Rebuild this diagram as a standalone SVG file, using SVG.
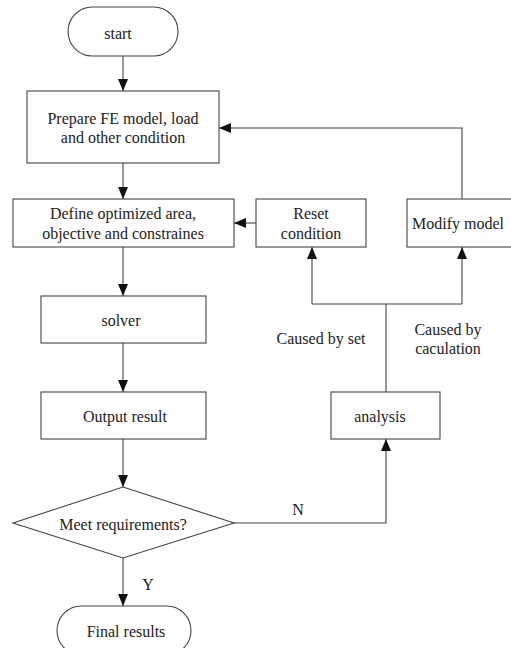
<svg xmlns="http://www.w3.org/2000/svg" width="511" height="648" viewBox="0 0 511 648">
<style>
.n{fill:#fff;stroke:#444;stroke-width:1.1}
.t{font-family:"Liberation Serif","Times New Roman",serif;font-size:16px;fill:#222;text-anchor:middle;dominant-baseline:central}
.c{fill:none;stroke:#444;stroke-width:1.1}
</style>
<defs>
<marker id="a" markerUnits="userSpaceOnUse" markerWidth="12" markerHeight="12" viewBox="0 0 12 12" refX="12" refY="6" orient="auto">
<path d="M0,1 L12,6 L0,11 Z" fill="#111"/>
</marker>
</defs>
<rect width="511" height="648" fill="#fff"/>
<g id="connectors">
<path class="c" d="M123,56 V91" marker-end="url(#a)"/>
<path class="c" d="M123,163 V199" marker-end="url(#a)"/>
<path class="c" d="M256,223 H234" marker-end="url(#a)"/>
<path class="c" d="M462,199 V128 H219" marker-end="url(#a)"/>
<path class="c" d="M123,247 V296" marker-end="url(#a)"/>
<path class="c" d="M123,343 V392" marker-end="url(#a)"/>
<path class="c" d="M123,439 V487" marker-end="url(#a)"/>
<path class="c" d="M123,558 V606" marker-end="url(#a)"/>
<path class="c" d="M234,523 H386 V439" marker-end="url(#a)"/>
<path class="c" d="M386,392 V304"/>
<path class="c" d="M312,304 H462"/>
<path class="c" d="M312,304 V247" marker-end="url(#a)"/>
<path class="c" d="M462,304 V247" marker-end="url(#a)"/>
<text class="t" x="321" y="338">Caused by set</text>
<text class="t" x="448" y="329">Caused by</text>
<text class="t" x="448" y="348">caculation</text>
<text class="t" x="298" y="509">N</text>
<text class="t" x="148" y="584">Y</text>
</g>
<g id="start">
<rect class="n" x="68" y="7" width="110" height="49" rx="24.5"/>
<text class="t" x="118" y="33">start</text>
</g>
<g id="prepare">
<rect class="n" x="27" y="91" width="192" height="72"/>
<text class="t" x="123" y="118">Prepare FE model, load</text>
<text class="t" x="123" y="137">and other condition</text>
</g>
<g id="define">
<rect class="n" x="13" y="199" width="221" height="48"/>
<text class="t" x="123" y="213">Define optimized area,</text>
<text class="t" x="123" y="233">objective and constraines</text>
</g>
<g id="reset">
<rect class="n" x="256" y="199" width="110" height="48"/>
<text class="t" x="311" y="213">Reset</text>
<text class="t" x="311" y="233">condition</text>
</g>
<g id="modify">
<rect class="n" x="407" y="199" width="110" height="48"/>
<text class="t" x="458" y="223">Modify model</text>
</g>
<g id="solver">
<rect class="n" x="41" y="296" width="165" height="47"/>
<text class="t" x="121" y="320">solver</text>
</g>
<g id="output">
<rect class="n" x="41" y="392" width="165" height="47"/>
<text class="t" x="125" y="416">Output result</text>
</g>
<g id="analysis">
<rect class="n" x="331" y="392" width="109" height="47"/>
<text class="t" x="380" y="416">analysis</text>
</g>
<g id="decision">
<polygon class="n" points="123,487 234,523 123,558 13,523"/>
<text class="t" x="123" y="524">Meet requirements?</text>
</g>
<g id="final">
<rect class="n" x="57" y="606" width="134" height="49" rx="24.5"/>
<text class="t" x="126" y="631">Final results</text>
</g>
</svg>
